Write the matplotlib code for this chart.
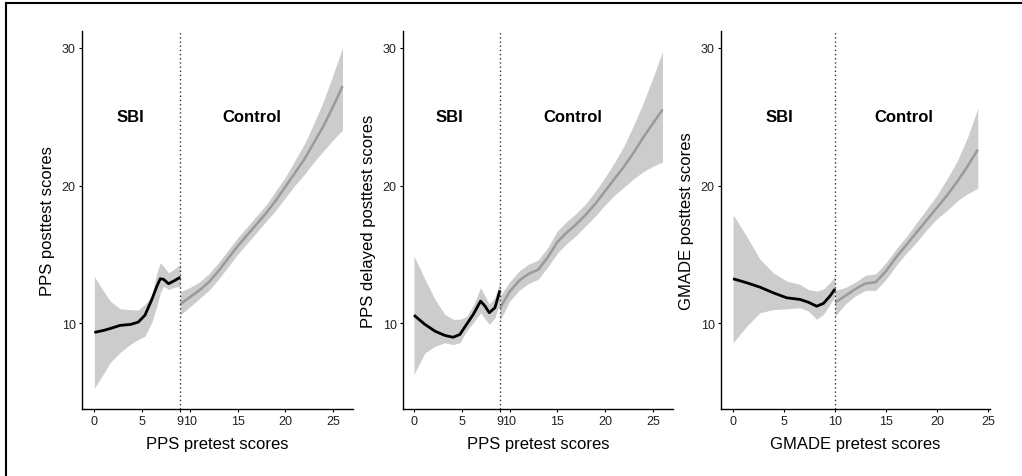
import matplotlib.pyplot as plt
from matplotlib.lines import Line2D

plt.rcParams['font.family'] = ['Liberation Sans', 'DejaVu Sans']

# ---- panel 1: PPS posttest ----
p1_sbi_x = [0, 1.0, 1.7, 2.7, 3.8, 4.6, 5.3, 6.0, 6.55, 6.9, 7.25, 7.77, 8.3, 9.0]
p1_sbi_y = [9.35, 9.5, 9.64, 9.86, 9.93, 10.1, 10.6, 11.7, 12.7, 13.24, 13.2, 12.88, 13.07, 13.35]
p1_sbi_hi = [13.4, 12.3, 11.6, 11.06, 11.0, 10.97, 11.4, 11.97, 13.67, 14.4, 14.15, 13.67, 13.9, 14.3]
p1_sbi_lo = [5.3, 6.4, 7.2, 7.9, 8.5, 8.84, 9.08, 10.05, 11.25, 12.2, 12.7, 12.46, 12.6, 12.7]
p1_ctl_x = [9, 10, 11, 12, 13, 14, 15, 16, 17, 18, 19, 20, 21, 22, 23, 24, 25, 26]
p1_ctl_y = [11.4, 11.9, 12.4, 13.0, 13.8, 14.7, 15.6, 16.4, 17.2, 18.0, 18.9, 19.9, 20.9, 21.9, 23.1, 24.3, 25.7, 27.2]
p1_ctl_hi = [12.3, 12.6, 13.0, 13.6, 14.4, 15.3, 16.2, 17.0, 17.8, 18.6, 19.6, 20.6, 21.8, 23.0, 24.5, 26.1, 28.0, 30.0]
p1_ctl_lo = [10.6, 11.2, 11.8, 12.4, 13.2, 14.1, 15.0, 15.8, 16.6, 17.4, 18.2, 19.1, 20.0, 20.8, 21.7, 22.5, 23.3, 24.0]

# ---- panel 2: PPS delayed posttest ----
p2_sbi_x = [0, 1.15, 2.2, 3.24, 4.1, 4.8, 5.5, 6.2, 6.97, 7.43, 7.88, 8.47, 9.0]
p2_sbi_y = [10.6, 9.93, 9.44, 9.13, 9.0, 9.2, 9.93, 10.65, 11.62, 11.26, 10.78, 11.14, 12.4]
p2_sbi_hi = [14.9, 13.2, 11.75, 10.65, 10.3, 10.3, 10.5, 11.3, 12.6, 12.0, 11.4, 11.9, 13.0]
p2_sbi_lo = [6.3, 7.87, 8.35, 8.6, 8.47, 8.6, 9.44, 10.05, 10.78, 10.34, 9.93, 10.41, 11.6]
p2_ctl_x = [9, 10, 11, 12, 13, 14, 15, 16, 17, 18, 19, 20, 21, 22, 23, 24, 25, 26]
p2_ctl_y = [11.1, 12.3, 13.1, 13.6, 13.9, 14.8, 15.9, 16.6, 17.2, 17.9, 18.7, 19.6, 20.5, 21.4, 22.4, 23.5, 24.5, 25.5]
p2_ctl_hi = [12.0, 13.0, 13.8, 14.3, 14.6, 15.5, 16.7, 17.4, 18.0, 18.7, 19.6, 20.6, 21.7, 22.9, 24.4, 26.0, 27.8, 29.7]
p2_ctl_lo = [10.2, 11.6, 12.4, 12.9, 13.2, 14.1, 15.1, 15.8, 16.4, 17.1, 17.8, 18.6, 19.3, 19.9, 20.5, 21.0, 21.4, 21.7]

# ---- panel 3: GMADE posttest ----
p3_sbi_x = [0, 1.34, 2.65, 3.95, 5.26, 6.57, 7.38, 8.2, 8.86, 9.5, 10.0]
p3_sbi_y = [13.24, 12.95, 12.63, 12.22, 11.86, 11.74, 11.54, 11.25, 11.45, 11.98, 12.5]
p3_sbi_hi = [17.9, 16.3, 14.64, 13.67, 13.07, 12.83, 12.46, 12.34, 12.5, 12.95, 13.43]
p3_sbi_lo = [8.6, 9.8, 10.78, 11.0, 11.06, 11.14, 10.9, 10.3, 10.65, 11.38, 11.98]
p3_ctl_x = [10, 11, 12, 13, 14, 15, 16, 17, 18, 19, 20, 21, 22, 23, 24]
p3_ctl_y = [11.5, 12.0, 12.5, 12.9, 13.0, 13.8, 14.8, 15.7, 16.6, 17.5, 18.4, 19.3, 20.3, 21.4, 22.6]
p3_ctl_hi = [12.4, 12.6, 13.0, 13.5, 13.6, 14.4, 15.4, 16.3, 17.3, 18.3, 19.3, 20.5, 21.8, 23.5, 25.6]
p3_ctl_lo = [10.5, 11.4, 12.0, 12.4, 12.4, 13.2, 14.2, 15.1, 15.9, 16.8, 17.6, 18.2, 18.9, 19.4, 19.8]

panels = [
    dict(sbi=(p1_sbi_x, p1_sbi_y, p1_sbi_hi, p1_sbi_lo), ctl=(p1_ctl_x, p1_ctl_y, p1_ctl_hi, p1_ctl_lo),
         cut=9, xticks=[0, 5, 9, 10, 15, 20, 25], xlim=(-1.3, 27.1), sbi_lab=3.75, ctl_lab=16.5,
         xlabel="PPS pretest scores", ylabel="PPS posttest scores", pos=[0.0802, 0.1405, 0.2652, 0.7924]),
    dict(sbi=(p2_sbi_x, p2_sbi_y, p2_sbi_hi, p2_sbi_lo), ctl=(p2_ctl_x, p2_ctl_y, p2_ctl_hi, p2_ctl_lo),
         cut=9, xticks=[0, 5, 9, 10, 15, 20, 25], xlim=(-1.15, 27.1), sbi_lab=3.75, ctl_lab=16.6,
         xlabel="PPS pretest scores", ylabel="PPS delayed posttest scores", pos=[0.3943, 0.1405, 0.2642, 0.7924]),
    dict(sbi=(p3_sbi_x, p3_sbi_y, p3_sbi_hi, p3_sbi_lo), ctl=(p3_ctl_x, p3_ctl_y, p3_ctl_hi, p3_ctl_lo),
         cut=10, xticks=[0, 5, 10, 15, 20, 25], xlim=(-1.18, 25.2), sbi_lab=4.5, ctl_lab=16.7,
         xlabel="GMADE pretest scores", ylabel="GMADE posttest scores", pos=[0.7055, 0.1405, 0.2632, 0.7924]),
]

fig = plt.figure(figsize=(10.22, 4.77), dpi=100)

for p in panels:
    ax = fig.add_axes(p['pos'])
    sx, sy, shi, slo = p['sbi']
    cx, cy, chi, clo = p['ctl']
    ax.fill_between(sx, slo, shi, color='#cccccc', lw=0)
    ax.fill_between(cx, clo, chi, color='#cccccc', lw=0)
    ax.plot(sx, sy, color='black', lw=2.0, solid_capstyle='butt', solid_joinstyle='round')
    ax.plot(cx, cy, color='#9a9a9a', lw=1.8, solid_capstyle='butt', solid_joinstyle='round')
    ax.axvline(p['cut'], color='#333333', lw=1.0, ls=(0, (1, 2)))
    ax.text(p['sbi_lab'], 25, "SBI", fontsize=12, fontweight='bold', ha='center', va='center')
    ax.text(p['ctl_lab'], 25, "Control", fontsize=12, fontweight='bold', ha='center', va='center')

    ax.set_xlim(*p['xlim'])
    ax.set_ylim(3.8, 31.2)
    ax.set_xticks(p['xticks'])
    ax.set_xticklabels([str(t) for t in p['xticks']])
    ax.set_yticks([10, 20, 30])
    for s in ['top', 'right']:
        ax.spines[s].set_visible(False)
    for s in ['left', 'bottom']:
        ax.spines[s].set_linewidth(1.0)
    ax.tick_params(length=2.5, width=0.8, pad=2, labelsize=9, labelcolor='#222222')
    ax.set_xlabel(p['xlabel'], fontsize=12, labelpad=6)
    ax.set_ylabel(p['ylabel'], fontsize=12, labelpad=5)

# outer frame lines (top and left)
fig.add_artist(Line2D([0.0059, 1.0], [0.9916, 0.9916], color='black', lw=1.5, transform=fig.transFigure))
fig.add_artist(Line2D([0.0059, 0.0059], [0.0, 0.9916], color='black', lw=1.5, transform=fig.transFigure))

fig.savefig("out.png", dpi=100)
